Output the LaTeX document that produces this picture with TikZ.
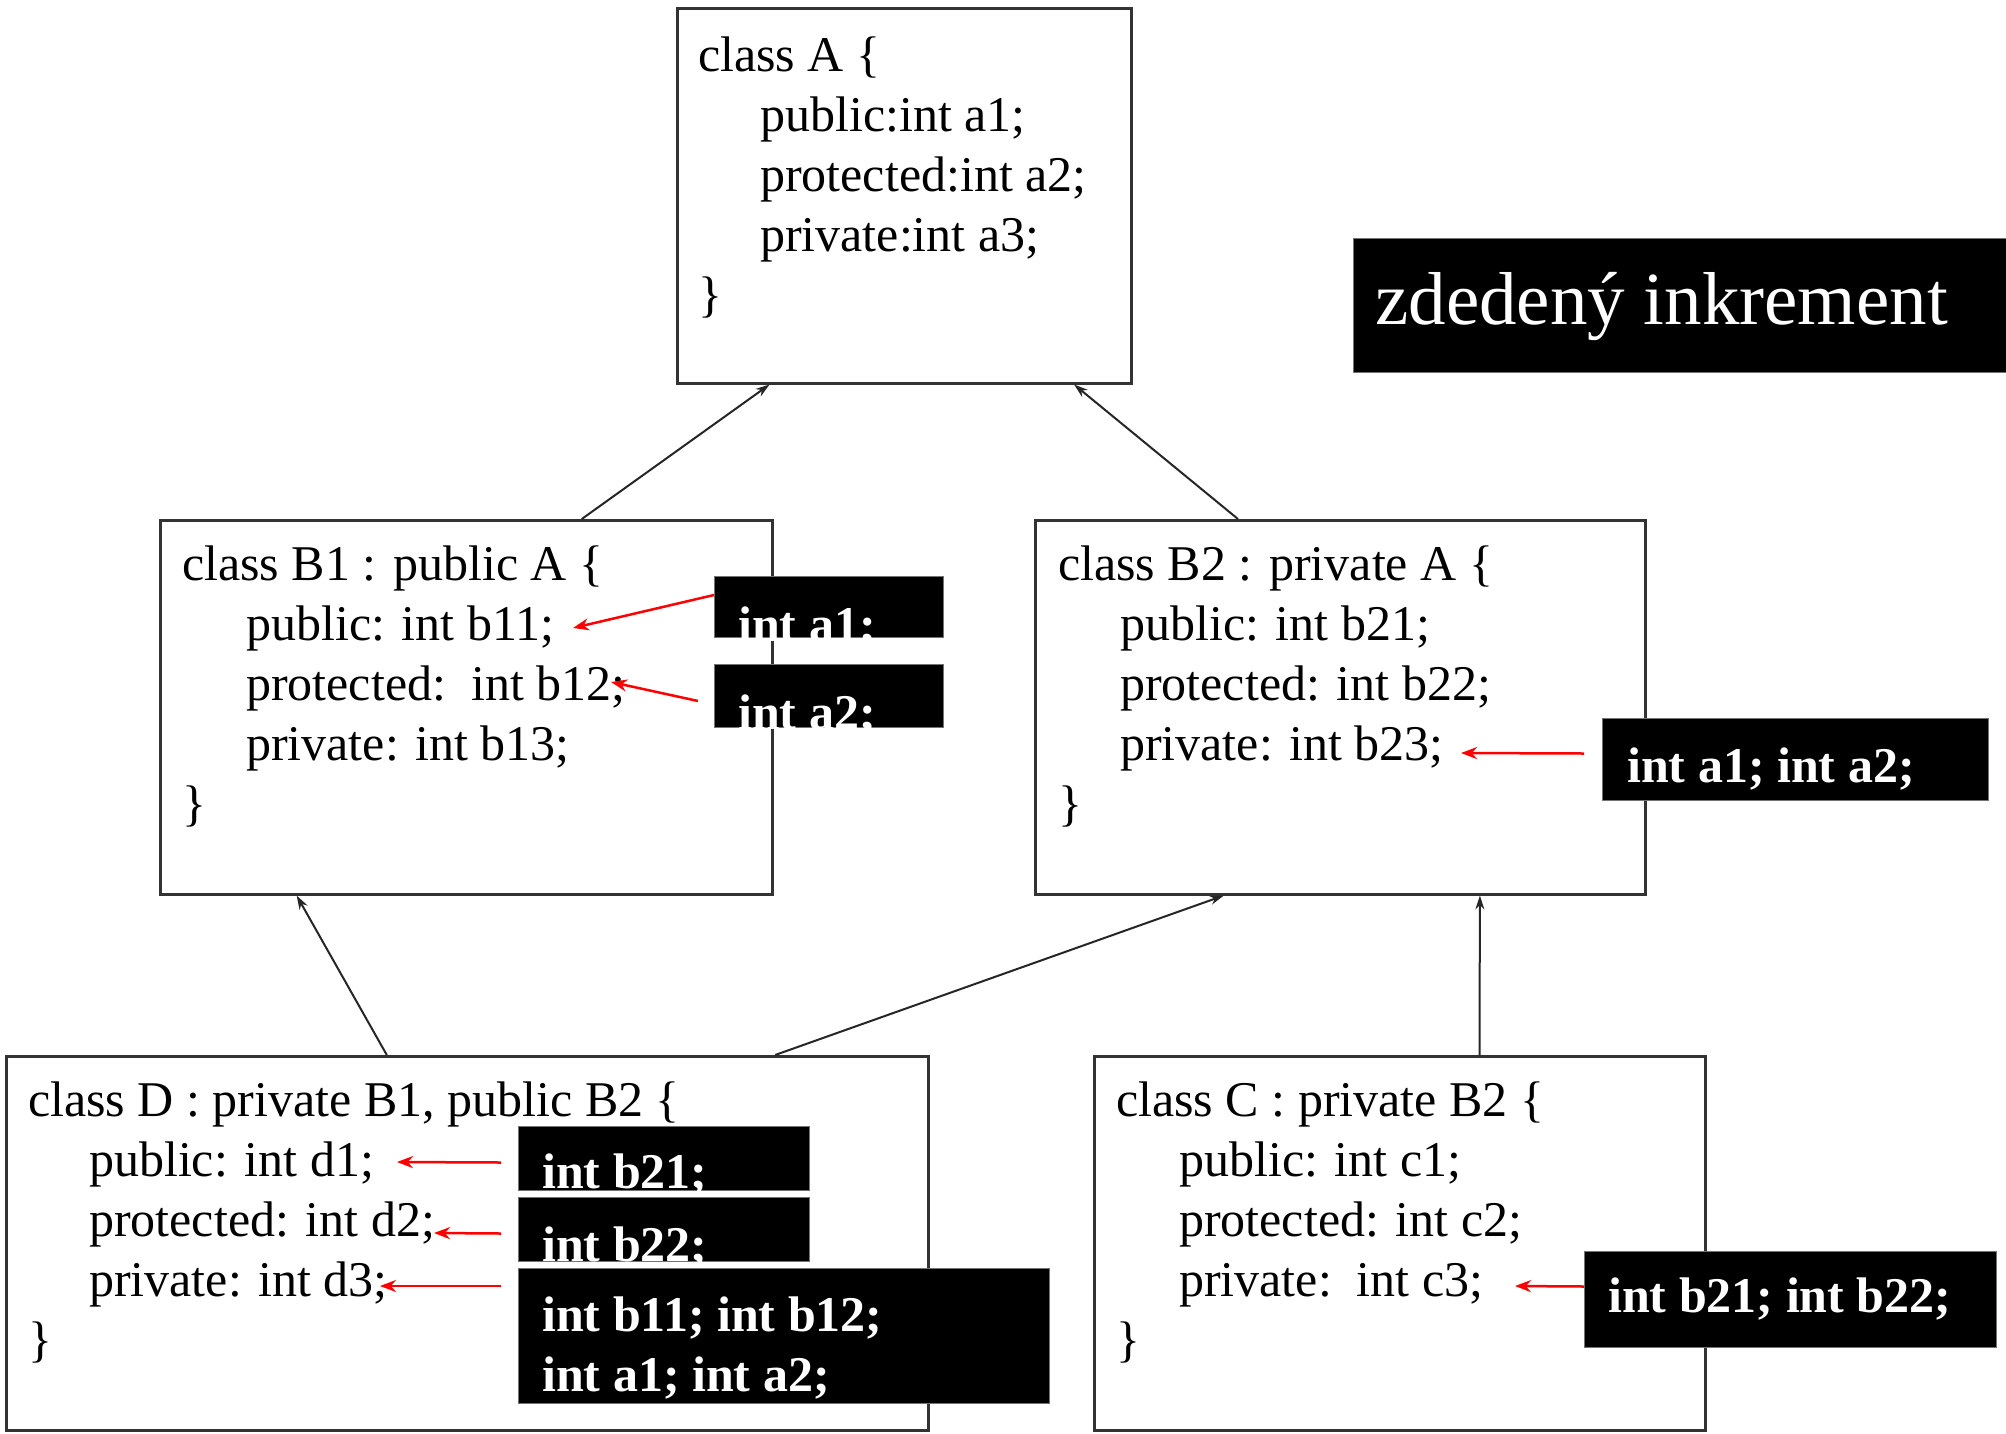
\documentclass[tikz,border=0pt]{standalone}
\usepackage{fontspec}
\setmainfont{Liberation Serif}
\usetikzlibrary{arrows.meta,calc}

\begin{document}
\begin{tikzpicture}[x=1pt,y=-1pt,
  clsbox/.style={draw=black!80,line width=2.5pt,fill=white,anchor=north west,inner sep=0pt},
  code/.style={font=\fontsize{50}{60}\selectfont,align=left,anchor=north west,inner sep=0pt},
  blk/.style={fill=black,draw=black!55,line width=1pt,anchor=north west,inner sep=0pt},
  wtxt/.style={text=white,font=\bfseries\fontsize{50}{60}\selectfont,inner sep=0pt,anchor=base west},
  inh/.style={-{Stealth[length=14pt,width=9pt]},line width=2pt,black!85},
  redarr/.style={-{Stealth[length=16pt,width=12pt]},line width=2.5pt,red},
]
\useasboundingbox (0,0) rectangle (2006,1433);

% class boxes
\node[clsbox,minimum width=454pt,minimum height=375pt] (A)  at (676,7) {};
\node[clsbox,minimum width=612pt,minimum height=374pt] (B1) at (159,519) {};
\node[clsbox,minimum width=610pt,minimum height=374pt] (B2) at (1034,519) {};
\node[clsbox,minimum width=922pt,minimum height=374pt] (D)  at (5,1055) {};
\node[clsbox,minimum width=611pt,minimum height=374pt] (C)  at (1093,1055) {};

% inheritance connectors
\draw[inh] ($(B1.north west)!0.688!(B1.north east)$) -- ($(A.south west)!0.205!(A.south east)$);
\draw[inh] ($(B2.north west)!0.333!(B2.north east)$) -- ($(A.south west)!0.872!(A.south east)$);
\draw[inh] ($(D.north west)!0.413!(D.north east)$) -- ($(B1.south west)!0.224!(B1.south east)$);
\draw[inh] ($(D.north west)!0.833!(D.north east)$) -- ($(B2.south west)!0.31!(B2.south east)$);
\draw[inh] ($(C.north west)!0.63!(C.north east)$) -- ($(B2.south west)!0.728!(B2.south east)$);

% class bodies
\node[code] (Atext) at (698,31) {\rule{0pt}{40pt}class A \{\\
  \hspace*{62pt}public:int a1;\\
  \hspace*{62pt}protected:int a2;\\
  \hspace*{62pt}private:int a3;\\
  \}};
\node[code] (B1text) at (182,540) {\rule{0pt}{40pt}class B1 : public A \{\\
  \hspace*{64pt}public: int b11;\\
  \hspace*{64pt}protected:\ \ int b12;\\
  \hspace*{64pt}private: int b13;\\
  \}};
\node[code] (B2text) at (1058,540) {\rule{0pt}{40pt}class B2 : private A \{\\
  \hspace*{62pt}public: int b21;\\
  \hspace*{62pt}protected: int b22;\\
  \hspace*{62pt}private: int b23;\\
  \}};
\node[code] (Dtext) at (28,1076) {\rule{0pt}{40pt}class D : private B1, public B2 \{\\
  \hspace*{61pt}public: int d1;\\
  \hspace*{61pt}protected: int d2;\\
  \hspace*{61pt}private: int d3;\\
  \}};
\node[code] (Ctext) at (1116,1076) {\rule{0pt}{40pt}class C : private B2 \{\\
  \hspace*{63pt}public: int c1;\\
  \hspace*{63pt}protected: int c2;\\
  \hspace*{63pt}private:\ \ int c3;\\
  \}};

% title
\node[blk,minimum width=665pt,minimum height=134pt] (title) at (1353,238) {};
\node[text=white,font=\fontsize{75}{90}\selectfont,anchor=base west,inner sep=0pt] (titletext) at (1375,324) {zdedený inkrement};

% inherited members
\node[blk,minimum width=229pt,minimum height=61pt] (la1) at (714,576) {};
\node[wtxt] (la1t) at (738,641) {int a1;};
\node[blk,minimum width=229pt,minimum height=63pt] (la2) at (714,664) {};
\node[wtxt] (la2t) at (738,729) {int a2;};
\node[blk,minimum width=386pt,minimum height=82pt] (lb2) at (1602,718) {};
\node[wtxt] (lb2t) at (1627,782) {int a1; int a2;};
\node[blk,minimum width=291pt,minimum height=64pt] (ld1) at (518,1126) {};
\node[wtxt] (ld1t) at (542,1188) {int b21;};
\node[blk,minimum width=291pt,minimum height=64pt] (ld2) at (518,1197) {};
\node[wtxt] (ld2t) at (542,1261) {int b22;};
\node[blk,minimum width=531pt,minimum height=135pt] (ld3) at (518,1268) {};
\node[wtxt,align=left,anchor=north west] (ld3t) at (542,1291) {\rule{0pt}{40pt}int b11; int b12;\\int a1; int a2;};
\node[blk,minimum width=412pt,minimum height=96pt] (lc) at (1584,1251) {};
\node[wtxt] (lct) at (1608,1312) {int b21; int b22;};

% arrows to the receiving sections
\coordinate (e1) at (573,628);
\coordinate (e2) at (611,682);
\coordinate (e3) at (1461,753);
\coordinate (e4) at (397,1162);
\coordinate (e5) at (434,1233);
\coordinate (e6) at (380,1286);
\coordinate (e7) at (1515,1286);
\draw[redarr] ($(la1.north west)+(0,19)$) -- (e1);
\draw[redarr] ($(la2.west)+(-16,5)$) -- (e2);
\draw[redarr] ($(lb2.west)+(-18,-6)$) -- (e3);
\draw[redarr] ($(ld1.west)+(-17,4)$) -- (e4);
\draw[redarr] ($(ld2.west)+(-17,4)$) -- (e5);
\draw[redarr] ($(ld3.north west)+(-17,18)$) -- (e6);
\draw[redarr] ($(lc.west)+(0,-13)$) -- (e7);
\end{tikzpicture}
\end{document}
